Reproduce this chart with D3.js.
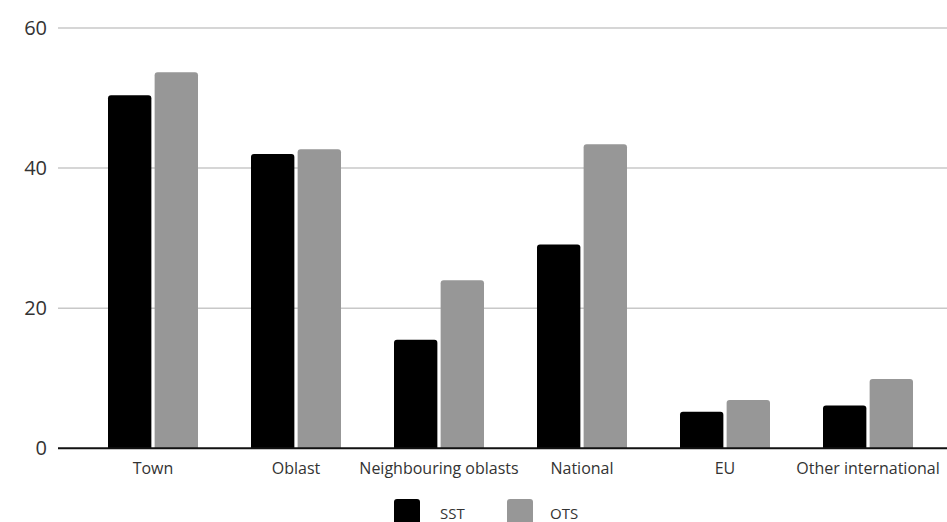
<!DOCTYPE html>
<html><head><meta charset="utf-8">
<script src="https://cdn.jsdelivr.net/npm/d3@7"></script>
<style>html,body{margin:0;padding:0;background:#fff;}svg{display:block;}</style>
</head><body>
<svg id="chart" width="947" height="522"></svg>
<script>
const categories = ["Town","Oblast","Neighbouring oblasts","National","EU","Other international"];
const seriesNames = ["SST","OTS"];
const sstValues = [50.4, 42.0, 15.5, 29.1, 5.2, 6.1];
const otsValues = [53.7, 42.7, 24.0, 43.4, 6.9, 9.9];
const yTicks = [0, 20, 40, 60];
const colors = {SST:"#000000", OTS:"#979797"};

const svg = d3.select("#chart");
const plotLeft = 58, plotRight = 947, plotTop = 28, plotBottom = 448.3;
const y = d3.scaleLinear().domain([0,60]).range([plotBottom, plotTop]);
const x0 = d3.scaleBand().domain(categories).range([81.5, 939.5]).padding(0);
const x1 = d3.scaleBand().domain(seriesNames).range([-45, 45]).paddingInner(0.07);

const font = "'Open Sans', 'Noto Sans', sans-serif";

// gridlines
svg.append("g").selectAll("line").data(yTicks.filter(d=>d>0)).join("line")
  .attr("x1", plotLeft).attr("x2", plotRight)
  .attr("y1", d=>y(d)).attr("y2", d=>y(d))
  .attr("stroke", "#c8c8c8").attr("stroke-width", 1.5);

// y labels
svg.append("g").selectAll("text").data(yTicks).join("text")
  .attr("x", 47).attr("y", d=>y(d)).attr("dy", "0.35em")
  .attr("text-anchor","end").attr("font-family", font).attr("font-size", 20)
  .attr("fill","#333").text(d=>d);

// bars with rounded tops
function topRounded(x, yTop, w, h, r){
  r = Math.min(r, h, w/2);
  return `M${x},${yTop+h}V${yTop+r}Q${x},${yTop} ${x+r},${yTop}H${x+w-r}Q${x+w},${yTop} ${x+w},${yTop+r}V${yTop+h}Z`;
}
const data = categories.map((c,i)=>({cat:c, vals:[{s:"SST",v:sstValues[i]},{s:"OTS",v:otsValues[i]}]}));
const groups = svg.append("g").selectAll("g").data(data).join("g")
  .attr("transform", d=>`translate(${x0(d.cat)+x0.bandwidth()/2},0)`);
groups.selectAll("path").data(d=>d.vals).join("path")
  .attr("d", d=>topRounded(x1(d.s), y(d.v), x1.bandwidth(), plotBottom - y(d.v), 3))
  .attr("fill", d=>colors[d.s]);

// baseline
svg.append("line").attr("x1", plotLeft).attr("x2", plotRight)
  .attr("y1", plotBottom).attr("y2", plotBottom).attr("stroke","#111").attr("stroke-width",2);

// x labels
svg.append("g").selectAll("text").data(categories).join("text")
  .attr("x", d=>x0(d)+x0.bandwidth()/2).attr("y", 474)
  .attr("text-anchor","middle").attr("font-family", font).attr("font-size", 16)
  .attr("fill","#333").text(d=>d);

// legend
const legend = svg.append("g");
const legendItems = [{s:"SST", bx:394, tx:440},{s:"OTS", bx:507, tx:550}];
legend.selectAll("rect").data(legendItems).join("rect")
  .attr("x", d=>d.bx).attr("y", 499).attr("width", 26).attr("height", 26).attr("rx", 3)
  .attr("fill", d=>colors[d.s]);
legend.selectAll("text").data(legendItems).join("text")
  .attr("x", d=>d.tx).attr("y", 519).attr("font-family", font).attr("font-size", 15)
  .attr("fill","#333").text(d=>d.s);
</script>
</body></html>
